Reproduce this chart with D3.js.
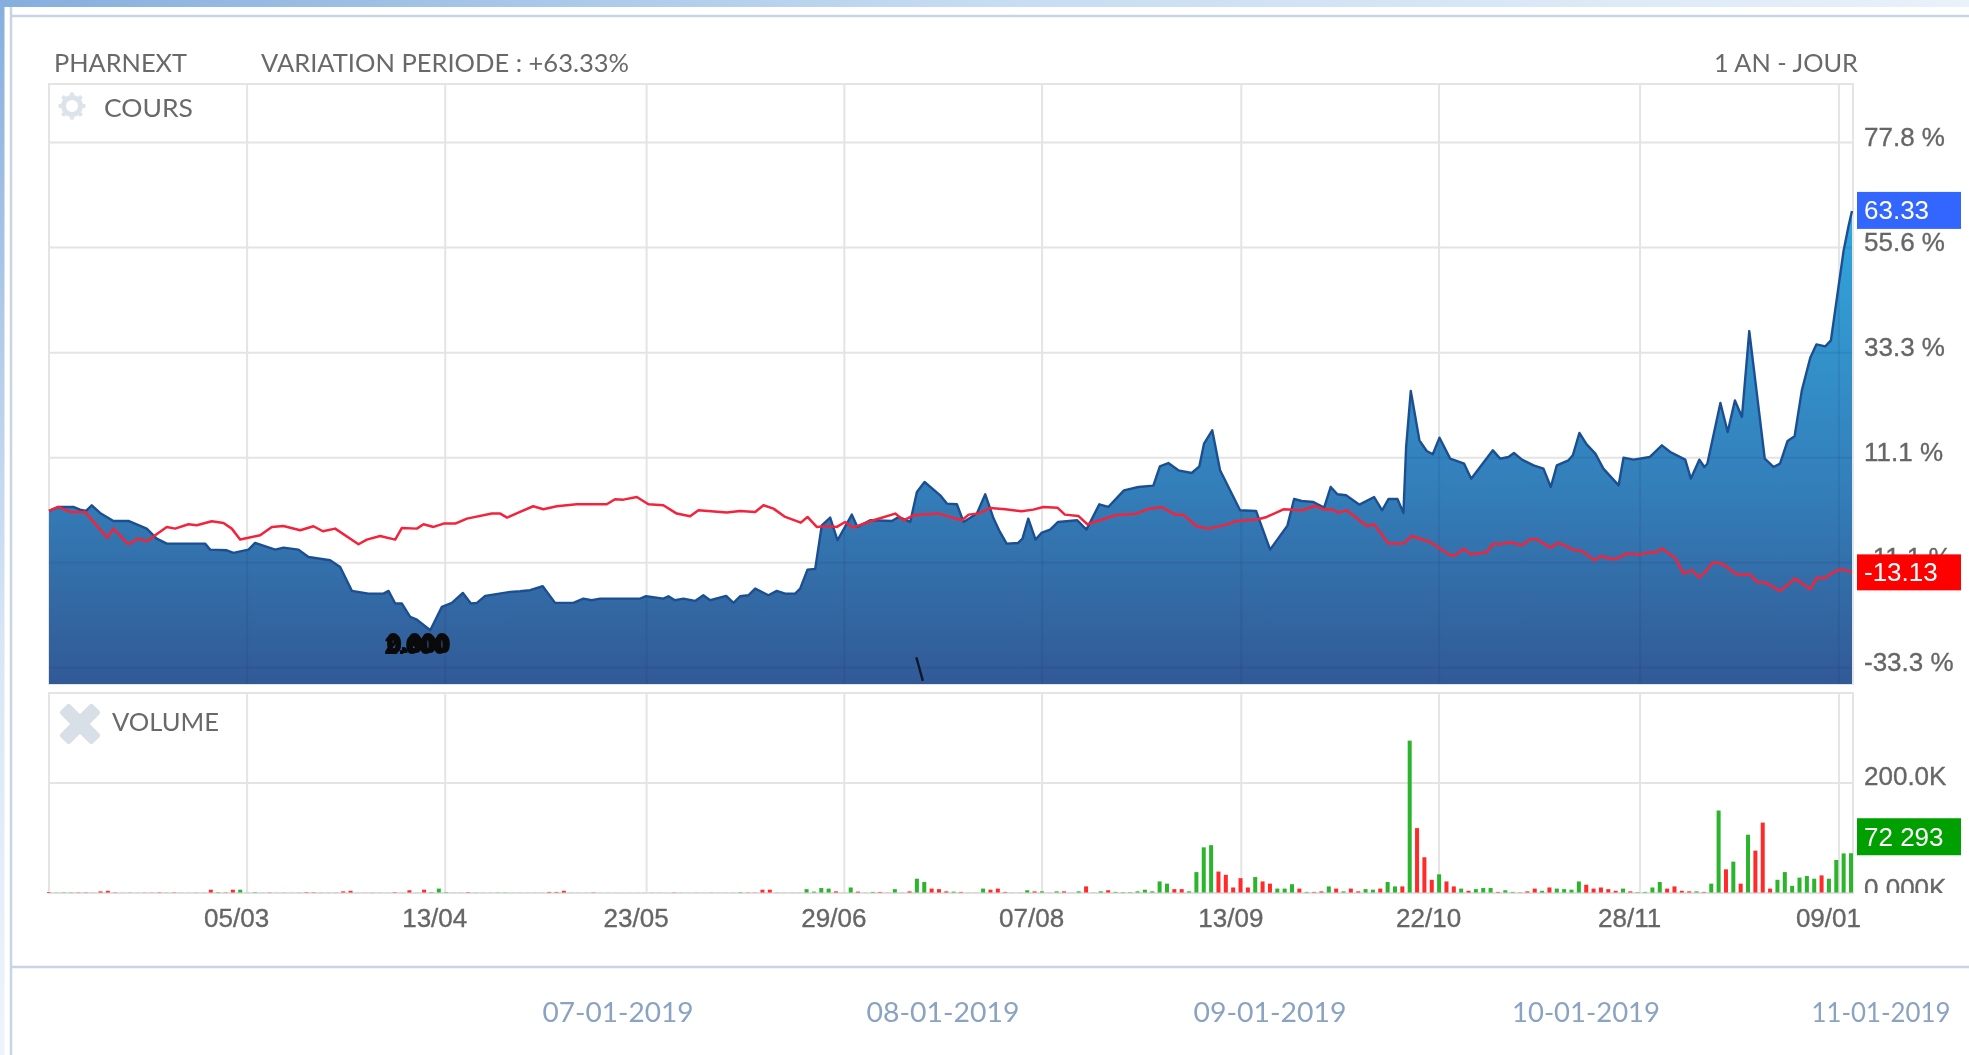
<!DOCTYPE html>
<html>
<head>
<meta charset="utf-8">
<script src="https://cdnjs.cloudflare.com/ajax/libs/d3/7.8.5/d3.min.js"></script>
<style>
html,body{margin:0;padding:0;background:#fff;overflow:hidden}
svg{display:block;filter:blur(0.75px)}
</style>
</head>
<body>
<svg id="c" width="1969" height="1055"></svg>
<script>
// ---- data ----
const stockName = "PHARNEXT";
const variationText = "VARIATION PERIODE : +63.33%";
const periodText = "1 AN - JOUR";
const panelPrice = "COURS";
const panelVolume = "VOLUME";
const lastPrice = 63.33;
const lastIndex = -13.13;
const lastVolume = 72.293;
const lastVolumeText = "72 293";

const percentTicks = [77.8, 55.6, 33.3, 11.1, -11.1, -33.3];
const volumeTicks = [200, 0];
const volumeTickLabels = ["200.0K", "0.000K"];
const dateSlots = [27.25, 54.5, 82.2, 109.4, 136.6, 164, 191.2, 218.85, 246.2];
const dateLabels = ["05/03", "13/04", "23/05", "29/06", "07/08", "13/09", "22/10", "28/11", "09/01"];
const footerDates = ["07-01-2019", "08-01-2019", "09-01-2019", "10-01-2019", "11-01-2019"];

// position along the session axis (0..248) and % change, read at each kink of the outline
const priceSlots = [0,1.29,3.35,4.27,5.1,5.88,7.02,8.86,10.92,13.44,14.82,16.2,21.47,22.16,24.45,25.37,27.44,28.35,31.11,32.25,34.32,35.69,38.67,40.05,41.66,43.95,46.01,46.7,47.62,48.54,49.68,50.6,52.44,54.04,55.42,56.93,58.03,58.86,60,63.45,64.79,66.17,67.91,69.61,72.13,73.5,74.65,75.8,81.3,82.13,84.5,85.2,86.1,87.27,88.87,90,90.94,93.14,94.15,95.06,96.2,97.13,98.96,100.1,101.26,102.63,103.32,104.33,105.39,106.3,107.45,108.46,110.43,111.2,112.95,115.94,116.86,118.46,119.38,120.43,122.59,123.5,124.88,125.8,127.63,128.78,129.93,130.8,131.72,133.3,133.9,134.7,135.7,136.5,137.7,138.8,141.44,142.7,144.47,145.7,147.86,149.84,151.9,152.8,153.96,155.34,157.18,158.23,158.87,160,161.08,163.83,166.03,167.96,170.34,171.26,172.31,173.92,175.39,176.3,177.22,178.41,180.25,182.27,183.37,184.24,185.48,186.3,186.67,187.31,188.5,189.5,190.34,191.26,192.73,194.65,195.62,198.6,199.6,200.75,201.5,202.6,204.2,205.56,206.57,207.4,209,209.6,210.5,211.5,212.7,213.8,215.9,216.57,217.95,220.2,221.85,223,225.06,225.84,227,227.7,228.1,229.9,230.9,231.9,232.86,233.87,236,237.2,238.1,239.14,240.1,241.1,242.26,243.1,244.33,245.1,246.85,247.54,248];
const priceValues = [-0.14,0.7,0.7,0.14,-0.14,1.06,-0.56,-2.26,-2.26,-3.88,-6,-7.05,-7.05,-8.32,-8.46,-9.02,-8.32,-6.91,-8.32,-7.89,-8.32,-9.87,-10.57,-11.98,-17.05,-17.62,-17.62,-17.05,-19.73,-19.73,-22.55,-23.12,-25.37,-20.44,-19.59,-17.48,-19.73,-19.59,-18.11,-17.27,-17.12,-16.91,-16.07,-19.59,-19.59,-18.68,-19.03,-18.68,-18.68,-18.18,-18.68,-18.18,-19.03,-18.68,-19.17,-17.97,-19.03,-18.11,-19.59,-18.18,-17.97,-16.56,-17.97,-17.05,-17.62,-17.62,-16.56,-12.55,-12.4,-3.17,-1.55,-6.34,-0.92,-3.52,-2.11,-2.26,-1.41,-2.47,3.88,5.99,3.17,1.41,1.27,-2.47,-0.7,3.38,-1.76,-4.58,-7.05,-6.91,-5.99,-1.77,-6.2,-4.8,-4.09,-2.47,-2.12,-4.09,1.26,0.7,4.22,4.93,5.21,9.3,10,8.45,7.89,9.3,14.09,16.91,8.45,0,-0.14,-8.32,-3.25,2.39,1.97,1.76,0.56,4.93,3.38,3.17,1.19,2.81,0,2.39,2.39,-0.57,13.39,25.22,14.8,12.54,11.84,15.36,10.92,9.86,6.69,12.68,10.92,11.28,12.12,10.71,9.51,8.81,4.93,9.51,10.57,11.63,16.35,13.95,11.98,8.81,5.28,11.13,10.71,11.28,13.74,12.33,10.71,6.7,10.71,9.16,9.86,22.69,16.56,23.25,19.73,37.91,10.92,9.16,9.86,14.66,15.64,25.37,32.27,35.09,34.67,35.94,54.97,60.25,63.33];

const indexSlots = [0,1.29,2.9,4.96,6.33,8.03,8.86,10.92,12.3,13.44,16.2,17.35,19.18,20.33,22.39,24,25.14,26.29,29.04,30.65,32.25,34.55,36.38,37.67,39.36,42.57,43.72,45.55,47.62,48.54,50.6,51.52,52.9,54.27,55.88,57.48,60.92,62.07,63,64.79,66.6,68,69.84,72.59,76.72,77.86,79,80.85,82.45,84.5,86.35,88.18,89.33,93.23,95.06,97.13,98.28,99.65,101.26,103.41,104.33,105.6,107.22,108.37,109.5,110.57,113.41,116.4,117.54,118.92,122.36,125.57,126.5,127.86,129.47,131.53,133.78,135.39,136.76,138.7,139.74,141.58,142.82,144.56,146.63,149.6,151,153.05,154.88,156,157.86,159.47,161.99,163.14,166.35,167.5,169.8,172.31,174.15,175.52,176.44,177.36,178.5,181.26,182.27,184.24,186.3,187.45,189.97,192.73,193.42,194.56,195.57,197.68,198.69,199.6,200.98,202.58,203.73,204.65,206.48,207.63,209.92,210.84,212.58,213.5,214.97,215.88,216.94,218.87,219.78,220.93,221.85,223.68,224.83,225.98,226.99,227.8,228.87,230.1,232.17,234,234.92,236.07,238.13,240.2,242.26,243.18,244.1,245.93,246.85,248];
const indexValues = [-0.14,0.7,-0.35,-0.35,-2.82,-5.78,-3.88,-7.19,-6,-6.55,-3.52,-3.88,-2.96,-3.17,-2.33,-2.68,-3.88,-6.2,-5.29,-3.52,-3.31,-4.23,-3.38,-4.44,-3.88,-7.19,-6.2,-5.43,-6.2,-3.74,-3.88,-2.96,-3.52,-2.82,-2.82,-1.76,-0.7,-0.7,-1.55,-0.35,0.85,0.21,0.85,1.27,1.27,2.33,2.25,2.82,1.27,1.06,-0.7,-1.27,0,-0.49,-0.14,-0.35,1.06,0.35,-1.41,-2.61,-1.41,-3.52,-3.31,-3.52,-2.47,-3.66,-2.11,-0.7,-2.11,-1.06,-0.7,-2.11,-0.92,-0.7,0.49,0.21,-0.21,0.14,0.7,0.56,-0.92,-1.2,-2.96,-2.12,-1.06,-0.71,0.21,0.7,-0.92,-0.92,-3.39,-3.88,-3.03,-2.33,-1.91,-1.41,0.21,0,0.91,0.14,0.21,-0.5,0,-3.32,-2.96,-7.05,-7.05,-5.43,-6.7,-9.52,-9.52,-8.11,-9.31,-8.95,-7.05,-7.19,-6.77,-7.4,-6.13,-6.13,-7.89,-6.91,-8.46,-8.6,-10.57,-9.66,-10.36,-10.08,-9.16,-9.37,-8.95,-8.95,-8.1,-10.08,-13.39,-12.69,-14.24,-13.04,-11.06,-11.28,-13.6,-13.6,-15.15,-15.29,-17.05,-14.45,-16.7,-14.24,-14.45,-12.69,-12.55,-13.13];

// daily volume in thousands, and its colour class per bar
const volumeValues = [
1.5,.5,1,1,1,1,.5,3,4,1, .3,.6,.3,.6,.6,1.2,.5,1,.4,.3, .5,.3,6,1.5,1,6,6,.5,1.5,.3, 1,.3,.6,.3,.6,1.5,1.2,.5,.4,.5, 3,4,.2,.3,.5,.5,.3,1.5,.3,5, .3,6,1.5,8,1.5,.3,.5,1.5,.6,.3, .3,.7,.7,
.3,.3,.3,.3,.3,
2,2,4,.3,.3,.3,1,.2,.2,.2,.2,.2,.2,.2,
.4,.3,.2,.8,.4,.2,.4,.2,.5,.3,.3,.3,1.5,
.8,.6,6,6,.6,.3,.5,.5,
7,2.5,9,8,3,.4,10,2.5,.5,2,2,.5,7,.5,3,
26,20,8,7,3,2.5,2,.3,.3,8,6,8,2,.4,.4,5,
3,3,.3,3,3,.3,3,12,.5,3,
5,2,1.5,1.5,3,6,3,21,17,7,
7,3,38,83,87,39,33,10,27,10,
29,21,17,8,8,16,8,2,2,3,
12,8,3,8,3,7,6,8,20,12,
12,277,118,65,24,34,21,12,8,4,
7,9,9,2,5,2,1,3,8,4,
10,8,7,6,21,15,8,10,7,4,
8,3,1.5,2,10,20,8,12,4,3,
3,2,17,150,43,57,17,106,77,128,
8,24,38,13,28,31,26,32,26,60,
72,72.293];
const volumeColours = (
"rgggrrgrrr"+"grgrrrgrgg"+"rgrgrrgggg"+"rggggrrrrr"+"rrgrrggrgr"+"grgggggrgg"+"ggg"+
"ggggg"+
"rrrgggrggggggg"+
"rrgrggrgrgrgg"+
"rrrrgrgg"+
"ggggrggrggrrggr"+
"ggrrrgrgggrrrggg"+
"rgrgrggrgg"+
"rggggggggr"+
"rggggrrrrr"+
"grrgggrgrr"+
"grgrrggrgg"+
"rgrrrgrrgr"+
"gggrggrrrg"+
"rggggrrrrr"+
"grggggrrrr"+
"grggrgrgrr"+
"rggggggrgg"+
"gg").split("");

const noteStrokes = ["0.800", "2.000", "0.000", "0.900", "0.600"];
const noteTick = [{slot: 119.3, v: -31.1}, {slot: 120.2, v: -36.1}];

// ---- layout ----
const L = 49, R = 1853;
const priceTop = 84, priceBottom = 684, volTop = 693, volBottom = 893;
const xPrice = d3.scaleLinear().domain([0, 248]).range([L, 1852]);
const yPrice = d3.scaleLinear().domain([-33.3, 77.8]).range([667.7, 142.5]);
const yVol = d3.scaleLinear().domain([0, 200]).range([volBottom, 783]);
const xVol = d3.scaleLinear().domain([0, volumeValues.length - 1]).range([L, 1851]);
const baseValue = yPrice.invert(priceBottom);

const svg = d3.select("#c");
const defs = svg.append("defs");
const lg = defs.append("linearGradient").attr("id", "bandTop").attr("x1", 0).attr("x2", 1).attr("y1", 0).attr("y2", 0);
lg.append("stop").attr("offset", 0).attr("stop-color", "#86aedd");
lg.append("stop").attr("offset", .5).attr("stop-color", "#c6dcf2");
lg.append("stop").attr("offset", 1).attr("stop-color", "#e9f1fa");
const lg2 = defs.append("linearGradient").attr("id", "bandLeft").attr("x1", 0).attr("x2", 0).attr("y1", 0).attr("y2", 1);
lg2.append("stop").attr("offset", 0).attr("stop-color", "#86aedd");
lg2.append("stop").attr("offset", .6).attr("stop-color", "#d7e5f5");
lg2.append("stop").attr("offset", 1).attr("stop-color", "#eef4fb");
const ag = defs.append("linearGradient").attr("id", "areaFill").attr("gradientUnits", "userSpaceOnUse")
  .attr("x1", 0).attr("x2", 0).attr("y1", yPrice(lastPrice)).attr("y2", priceBottom);
[[0, "#2ea8e2"], [.2, "#3398d0"], [.58, "#337fba"], [.8, "#336ba6"], [1, "#315a97"]].forEach(s =>
  ag.append("stop").attr("offset", s[0]).attr("stop-color", s[1]));
defs.append("clipPath").attr("id", "volClip").append("rect").attr("x", 1854).attr("y", 690).attr("width", 115).attr("height", volBottom - 690);

// page frame
svg.append("rect").attr("x", 0).attr("y", 0).attr("width", 1969).attr("height", 7).attr("fill", "url(#bandTop)");
svg.append("rect").attr("x", 0).attr("y", 0).attr("width", 4.5).attr("height", 1055).attr("fill", "url(#bandLeft)");
const frame = "#c8d4e4";
svg.append("line").attr("x1", 11).attr("x2", 11).attr("y1", 7).attr("y2", 1055).attr("stroke", frame).attr("stroke-width", 2.5);
svg.append("line").attr("x1", 11).attr("x2", 1969).attr("y1", 16).attr("y2", 16).attr("stroke", frame).attr("stroke-width", 2.5);
svg.append("line").attr("x1", 11).attr("x2", 1969).attr("y1", 967).attr("y2", 967).attr("stroke", frame).attr("stroke-width", 2.5);

// grid
const gridCol = "#e4e4e4";
function panelGrid(g, top, bottom, hLines, color) {
  g.selectAll(".v").data(dateSlots).join("line").attr("x1", d => xPrice(d)).attr("x2", d => xPrice(d))
    .attr("y1", top).attr("y2", bottom).attr("stroke", color).attr("stroke-width", 2);
  g.selectAll(".h").data(hLines).join("line").attr("x1", L - 1).attr("x2", R).attr("y1", d => d).attr("y2", d => d)
    .attr("stroke", color).attr("stroke-width", 2);
}
const gridG = svg.append("g");
panelGrid(gridG.append("g"), priceTop, priceBottom, percentTicks.map(yPrice), gridCol);
panelGrid(gridG.append("g"), volTop, volBottom, [yVol(200)], gridCol);
gridG.append("rect").attr("x", L).attr("y", priceTop).attr("width", R - L).attr("height", priceBottom - priceTop).attr("fill", "none").attr("stroke", gridCol).attr("stroke-width", 2);
gridG.append("rect").attr("x", L).attr("y", volTop).attr("width", R - L).attr("height", volBottom - volTop).attr("fill", "none").attr("stroke", gridCol).attr("stroke-width", 2);

// price area
const priceData = priceSlots.map((s, i) => ({slot: s, v: priceValues[i]}));
const indexData = indexSlots.map((s, i) => ({slot: s, v: indexValues[i]}));
const areaGen = d3.area().x(d => xPrice(d.slot)).y0(yPrice(baseValue)).y1(d => yPrice(d.v));
svg.append("path").datum(priceData).attr("fill", "url(#areaFill)").attr("d", areaGen);
// grid shows faintly through the area
defs.append("clipPath").attr("id", "areaClip").append("path").datum(priceData).attr("d", areaGen);
const overlay = svg.append("g").attr("clip-path", "url(#areaClip)");
panelGrid(overlay, priceTop, priceBottom, percentTicks.map(yPrice), "rgba(25,40,90,0.10)");
svg.append("path").datum(priceData).attr("fill", "none").attr("stroke", "#1c4f91").attr("stroke-width", 2.4).attr("stroke-linejoin", "round")
  .attr("d", d3.line().x(d => xPrice(d.slot)).y(d => yPrice(d.v)));

// index line
svg.append("path").datum(indexData).attr("fill", "none").attr("stroke", "#f4233c").attr("stroke-width", 2.5).attr("stroke-linejoin", "round")
  .attr("d", d3.line().x(d => xPrice(d.slot)).y(d => yPrice(d.v)));

// stray glyphs from the source
const noteG = svg.append("g");
noteG.selectAll("text").data(noteStrokes).join("text")
  .attr("x", (d, i) => xPrice(50.7) + [0, -2, 1, 2, 0][i]).attr("y", (d, i) => 653 + [0, 1, -1, 0, -2][i])
  .attr("text-anchor", "middle").attr("font-family", "Liberation Sans").attr("font-weight", 700).attr("font-size", 25)
  .attr("fill", "#0a0a0a").text(d => d);
svg.append("path").datum(noteTick).attr("fill", "none").attr("stroke", "#101828").attr("stroke-width", 2.4)
  .attr("d", d3.line().x(d => xPrice(d.slot)).y(d => yPrice(d.v)));

// volume bars
svg.append("g").selectAll("rect").data(volumeValues).join("rect")
  .attr("x", (d, i) => xVol(i) - 2).attr("width", 4)
  .attr("y", d => yVol(d)).attr("height", d => volBottom - yVol(d))
  .attr("fill", (d, i) => volumeColours[i] === "g" ? "#2cb42c" : "#ff2a2a");
svg.append("line").attr("x1", L).attr("x2", R).attr("y1", volBottom).attr("y2", volBottom).attr("stroke", "#dcdcdc").attr("stroke-width", 1);

// axes
const tickGrey = "#666";
const axisFont = "Liberation Sans";
function styleAxis(g) {
  g.select(".domain").remove();
  g.selectAll("line").remove();
  g.selectAll("text").attr("font-family", axisFont).attr("font-size", 26).attr("fill", tickGrey)
    .attr("stroke", tickGrey).attr("stroke-width", 0.35);
  g.attr("font-family", null).attr("font-size", null);
}
svg.append("g").attr("transform", `translate(${R},-5.5)`)
  .call(d3.axisRight(yPrice).tickValues(percentTicks).tickSize(0).tickPadding(11).tickFormat(d => d.toFixed(1) + " %"))
  .call(styleAxis);
const volAxisG = svg.append("g").attr("clip-path", "url(#volClip)").append("g").attr("transform", `translate(${R},0)`);
volAxisG.call(d3.axisRight(yVol).tickValues(volumeTicks).tickSize(0).tickPadding(11).tickFormat((d, i) => volumeTickLabels[i]))
  .call(styleAxis);
volAxisG.selectAll(".tick").attr("transform", d => `translate(0,${yVol(d) - (d === 0 ? 4 : 6)})`);
svg.append("g").attr("transform", `translate(-11,${volBottom})`)
  .call(d3.axisBottom(xPrice).tickValues(dateSlots).tickSize(0).tickPadding(16).tickFormat((d, i) => dateLabels[i]))
  .call(styleAxis);

// value tags
function tag(yTop, h, fill, label) {
  svg.append("rect").attr("x", 1857).attr("y", yTop).attr("width", 104).attr("height", h).attr("fill", fill);
  svg.append("text").attr("x", 1864).attr("y", yTop + h / 2 + 9).attr("font-family", axisFont).attr("font-size", 26).attr("fill", "#fff").text(label);
}
tag(yPrice(lastPrice) - 19, 37, "#3366ff", lastPrice.toFixed(2));
tag(yPrice(lastIndex) - 18, 36, "#ff0000", lastIndex.toFixed(2));
tag(yVol(lastVolume) - 35, 37, "#00a000", lastVolumeText);

// header text
const headFont = "Lato";
function head(x, y, txt, len, anchor) {
  svg.append("text").attr("x", x).attr("y", y).attr("font-family", headFont).attr("font-size", 25)
    .attr("fill", "#696969").attr("textLength", len).attr("lengthAdjust", "spacingAndGlyphs")
    .attr("text-anchor", anchor || "start").text(txt);
}
head(54, 72, stockName, 133);
head(261, 72, variationText, 368);
head(1714, 72, periodText, 144);
head(104, 117, panelPrice, 89);
head(112, 731, panelVolume, 107);

// panel icons
const ic = "#dde3ea";
const gear = svg.append("g").attr("transform", "translate(72,106)");
gear.append("circle").attr("r", 8.5).attr("fill", "none").attr("stroke", ic).attr("stroke-width", 5);
gear.selectAll("line").data(d3.range(8)).join("line")
  .attr("x1", d => 9 * Math.cos(d * Math.PI / 4)).attr("y1", d => 9 * Math.sin(d * Math.PI / 4))
  .attr("x2", d => 13.5 * Math.cos(d * Math.PI / 4)).attr("y2", d => 13.5 * Math.sin(d * Math.PI / 4))
  .attr("stroke", ic).attr("stroke-width", 4);
const cross = svg.append("g").attr("transform", "translate(80,724)");
[45, -45].forEach(a => cross.append("rect").attr("x", -23).attr("y", -7).attr("width", 46).attr("height", 14).attr("rx", 3)
  .attr("fill", "#d8dfe7").attr("transform", `rotate(${a})`));

// footer dates
const footerCentres = [618, 943, 1270, 1586, 1881];
const footerWidths = [151, 153, 153, 148, 139];
svg.append("g").selectAll("text").data(footerDates).join("text")
  .attr("x", (d, i) => footerCentres[i]).attr("y", 1022).attr("text-anchor", "middle")
  .attr("font-family", headFont).attr("font-size", 27).attr("fill", "#8aa3c2")
  .attr("textLength", (d, i) => footerWidths[i]).attr("lengthAdjust", "spacingAndGlyphs").text(d => d);
</script>
</body>
</html>
